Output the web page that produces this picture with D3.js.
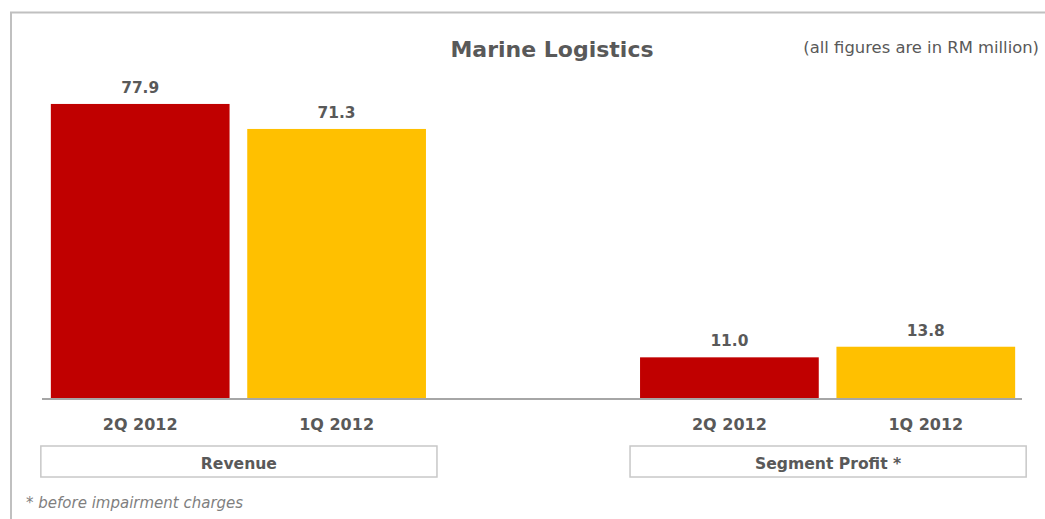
<!DOCTYPE html>
<html><head><meta charset="utf-8">
<script src="https://cdn.jsdelivr.net/npm/d3@7"></script>
<style>
body{margin:0;background:#fff}
text{font-family:"DejaVu Sans",sans-serif}
</style>
</head><body><svg id="c" width="1045" height="519"></svg>
<script>
const periods = ["2Q 2012", "1Q 2012"];
const groups = ["Revenue", "Segment Profit *"];
const revenue = [77.9, 71.3];
const segmentProfit = [11.0, 13.8];
const seriesColors = ["#c00000", "#ffc000"];
const title = "Marine Logistics";
const subtitle = "(all figures are in RM million)";
const footnote = "* before impairment charges";

const groupValues = [revenue, segmentProfit];
const rows = [];
groups.forEach((g, gi) => periods.forEach((p, pi) => rows.push({group: g, gi, period: p, pi, value: groupValues[gi][pi], key: g + "|" + p})));
const slotKeys = [rows[0].key, rows[1].key, "gap", rows[2].key, rows[3].key];

const svg = d3.select("#c");
const textCol = "#595959";
const baseY = 399;

const x = d3.scaleBand().domain(slotKeys).range([42, 1024]).paddingInner(0.09).paddingOuter(0.045);
const y = d3.scaleLinear().domain([0, 80]).range([baseY, 96]);

// outer frame
svg.append("path").attr("d", "M11,519V12.5H1045").attr("fill", "none").attr("stroke", "#c0c0c0").attr("stroke-width", 2);

// title & subtitle
svg.append("text").attr("x", 552).attr("y", 57).attr("text-anchor", "middle")
  .attr("font-size", 22).attr("font-weight", "bold").attr("fill", textCol).text(title);
svg.append("text").attr("x", 1039).attr("y", 53).attr("text-anchor", "end")
  .attr("font-size", 16.4).attr("fill", textCol).text(subtitle);

// bars
svg.selectAll("rect.bar").data(rows).join("rect").attr("class", "bar")
  .attr("x", d => x(d.key)).attr("width", x.bandwidth())
  .attr("y", d => y(d.value)).attr("height", d => y(0) - y(d.value))
  .attr("fill", d => seriesColors[d.pi]);

// value labels
svg.selectAll("text.val").data(rows).join("text").attr("class", "val")
  .attr("x", d => x(d.key) + x.bandwidth() / 2).attr("y", d => y(d.value) - 11)
  .attr("text-anchor", "middle").attr("font-size", 15.4).attr("font-weight", "bold").attr("fill", textCol)
  .text(d => d.value.toFixed(1));

// baseline
svg.append("line").attr("x1", 42).attr("x2", 1022).attr("y1", baseY).attr("y2", baseY)
  .attr("stroke", "#a6a6a6").attr("stroke-width", 2);

// category labels
svg.selectAll("text.cat").data(rows).join("text").attr("class", "cat")
  .attr("x", d => x(d.key) + x.bandwidth() / 2).attr("y", 430)
  .attr("text-anchor", "middle").attr("font-size", 16).attr("font-weight", "bold").attr("fill", textCol)
  .text(d => d.period);

// group boxes
groups.forEach((g, gi) => {
  const ks = rows.filter(r => r.gi === gi).map(r => r.key);
  const x0 = x(ks[0]) - 10, x1 = x(ks[ks.length - 1]) + x.bandwidth() + 11;
  svg.append("rect").attr("x", x0).attr("y", 446).attr("width", x1 - x0).attr("height", 31)
    .attr("fill", "#fff").attr("stroke", "#c8c8c8").attr("stroke-width", 1.5);
  svg.append("text").attr("x", (x0 + x1) / 2).attr("y", 469).attr("text-anchor", "middle")
    .attr("font-size", 15.6).attr("font-weight", "bold").attr("fill", textCol).text(g);
});

// footnote
svg.append("text").attr("x", 26).attr("y", 508).attr("font-size", 15).attr("font-style", "italic")
  .attr("fill", "#7f7f7f").text(footnote);
</script>
</body></html>
